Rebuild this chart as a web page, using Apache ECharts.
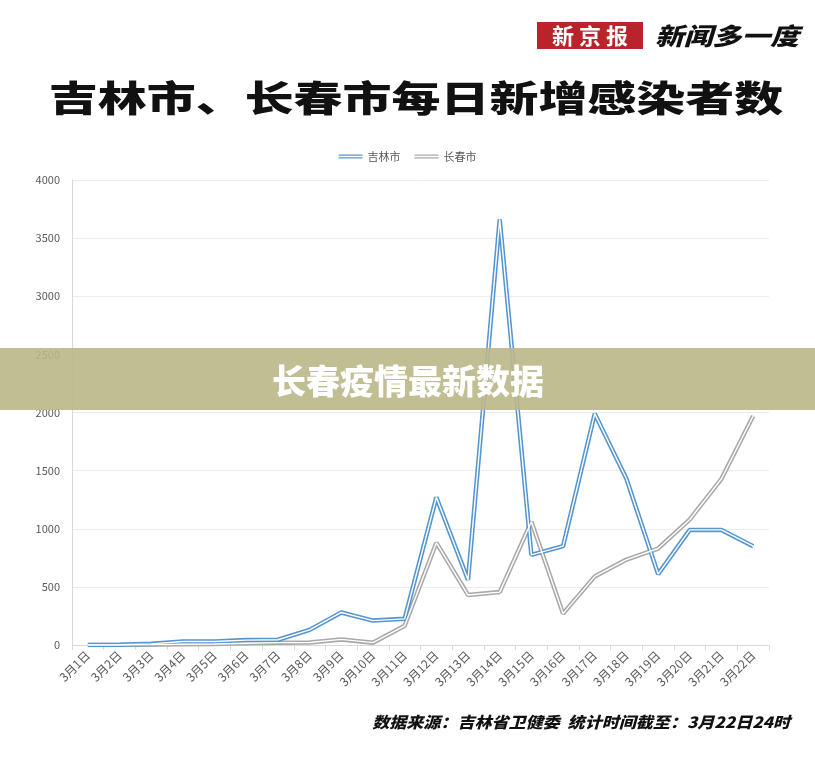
<!DOCTYPE html>
<html>
<head>
<meta charset="utf-8">
<script src="https://cdn.jsdelivr.net/npm/echarts@6/dist/echarts.min.js"></script>
<style>
  html, body { margin: 0; padding: 0; background: #fff; }
  #chart { width: 815px; height: 758px; }
</style>
</head>
<body>
<div id="chart"></div>
<script>
// 日期
const days = ['3月1日', '3月2日', '3月3日', '3月4日', '3月5日', '3月6日', '3月7日', '3月8日',
    '3月9日', '3月10日', '3月11日', '3月12日', '3月13日', '3月14日', '3月15日', '3月16日',
    '3月17日', '3月18日', '3月19日', '3月20日', '3月21日', '3月22日'];

// 每日新增
const jilinCity = [0, 2, 10, 30, 30, 42, 45, 130, 280, 210, 225, 1270, 560, 3660,
    775, 850, 1990, 1430, 610, 990, 990, 850];
const changchunCity = [0, 0, 2, 6, 8, 15, 20, 22, 48, 20, 165, 880, 430, 455,
    1060, 270, 590, 735, 830, 1080, 1430, 1970];

const yTicks = { min: 0, max: 4000, step: 500 };

const BLUE = '#5596d0';
const GRAY = '#a9a9a9';
const CJK = '"Noto Sans CJK SC", sans-serif';

const myChart = echarts.init(document.getElementById('chart'));

// 双线效果：粗的彩色线 + 细的白线
function doubleLine(name, data, color) {
    return [{
        name: name,
        type: 'line',
        data: data,
        symbol: 'none',
        lineStyle: { color: color, width: 4.5 },
        itemStyle: { color: color },
        z: 2
    }, {
        name: name + '_inner',
        type: 'line',
        data: data,
        symbol: 'none',
        silent: true,
        lineStyle: { color: '#fff', width: 1.4 },
        z: 3
    }];
}

const legendIcon = 'path://M0,0H24V1.2H0Z M0,2.8H24V4H0Z';

const option = {
    backgroundColor: '#fff',
    animation: false,
    textStyle: { fontFamily: CJK },
    legend: {
        top: 146,
        left: 'center',
        itemWidth: 24,
        itemHeight: 4,
        itemGap: 14,
        textStyle: { fontSize: 11, color: '#595959', fontFamily: CJK },
        data: [
            { name: '吉林市', icon: legendIcon },
            { name: '长春市', icon: legendIcon }
        ]
    },
    grid: { left: 72, right: 46, top: 180, bottom: 113 },
    xAxis: {
        type: 'category',
        data: days,
        boundaryGap: true,
        axisLine: { lineStyle: { color: '#d9d9d9' } },
        axisTick: { show: true, length: 5, lineStyle: { color: '#d9d9d9' } },
        axisLabel: { rotate: 45, fontSize: 12, color: '#595959', margin: 8, interval: 0 }
    },
    yAxis: {
        type: 'value',
        min: yTicks.min,
        max: yTicks.max,
        interval: yTicks.step,
        axisLine: { show: true, lineStyle: { color: '#d9d9d9' } },
        axisTick: { show: false },
        splitLine: { lineStyle: { color: '#ececec' } },
        axisLabel: { fontSize: 11, color: '#595959', margin: 12, formatter: v => String(v) }
    },
    series: [].concat(
        doubleLine('长春市', changchunCity, GRAY),
        doubleLine('吉林市', jilinCity, BLUE)
    ),
    graphic: [
        // 报头
        {
            type: 'rect',
            shape: { x: 537, y: 22, width: 106, height: 27 },
            style: { fill: '#b8242a' }
        },
        {
            type: 'text',
            x: 590, y: 35.5,
            style: {
                text: '新 京 报', fill: '#fff', font: 'bold 22px "Noto Sans CJK SC"',
                align: 'center', verticalAlign: 'middle'
            }
        },
        {
            type: 'text',
            x: 727, y: 36,
            scaleX: 1.2,
            style: {
                text: '新闻多一度', fill: '#111', font: 'italic 900 24px "Noto Sans CJK SC"',
                align: 'center', verticalAlign: 'middle'
            }
        },
        // 标题
        {
            type: 'text',
            x: 416, y: 98,
            scaleX: 1.36,
            style: {
                text: '吉林市、长春市每日新增感染者数', fill: '#111',
                font: '900 36px "Noto Sans CJK SC"',
                align: 'center', verticalAlign: 'middle'
            }
        },
        // 底部说明
        {
            type: 'text',
            x: 790, y: 722,
            scaleX: 1.1,
            style: {
                text: '数据来源：吉林省卫健委  统计时间截至：3月22日24时', fill: '#111',
                font: 'italic 900 15.5px "Noto Sans CJK SC"',
                align: 'right', verticalAlign: 'middle'
            }
        },
        // 横幅
        {
            type: 'rect',
            z: 100,
            shape: { x: 0, y: 348, width: 815, height: 62 },
            style: { fill: 'rgba(186,183,136,0.9)' }
        },
        {
            type: 'text',
            z: 101,
            x: 408, y: 381,
            style: {
                text: '长春疫情最新数据', fill: '#fff',
                font: '900 34px "Noto Sans CJK SC"',
                align: 'center', verticalAlign: 'middle'
            }
        }
    ]
};

myChart.setOption(option);
</script>
</body>
</html>
